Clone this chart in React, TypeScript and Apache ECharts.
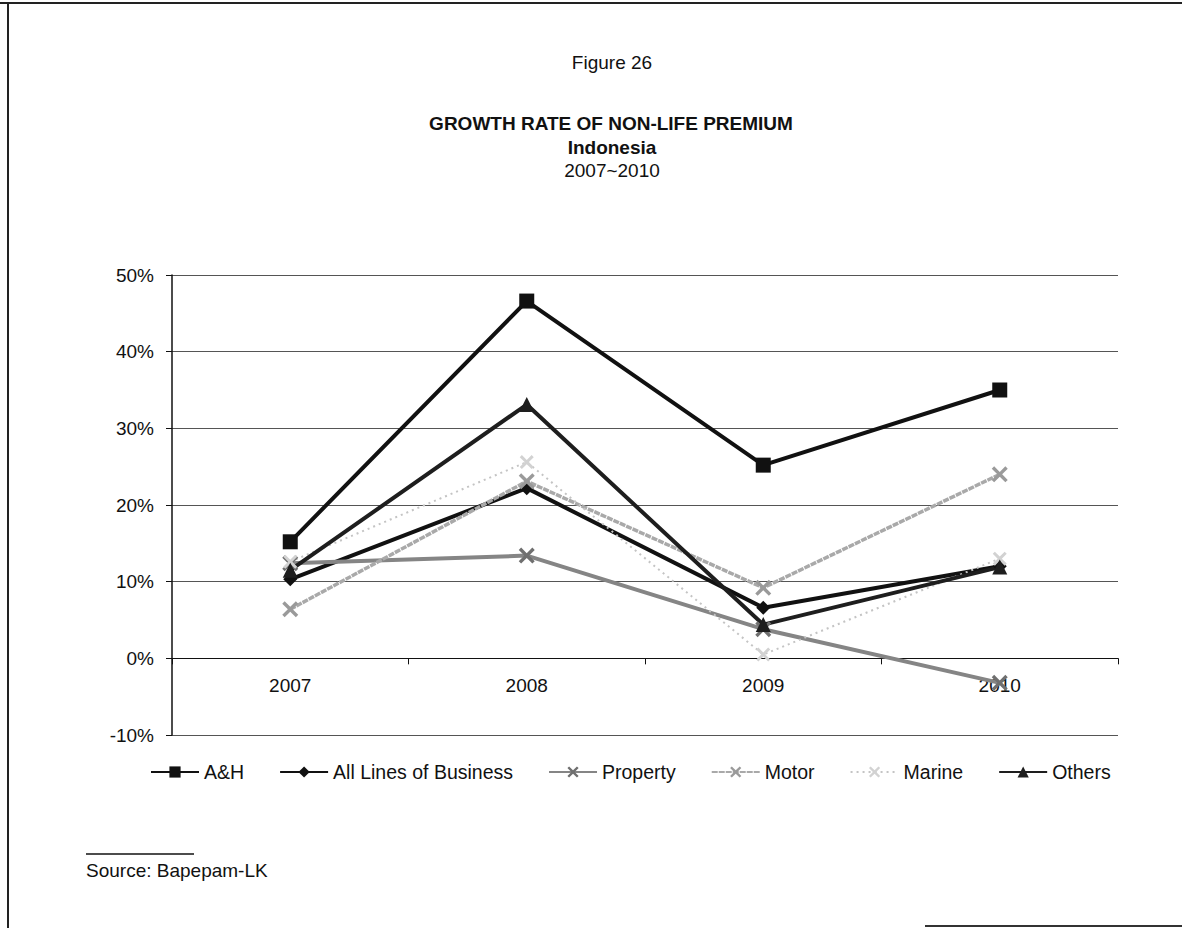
import React, { useEffect, useRef } from "react";
import * as echarts from "echarts";

const years = ["2007", "2008", "2009", "2010"];
const ahValues = [15.2, 46.6, 25.2, 35.0];
const allLinesValues = [10.3, 22.2, 6.6, 12.0];
const propertyValues = [12.4, 13.4, 3.8, -3.2];
const motorValues = [6.4, 23.1, 9.2, 24.0];
const marineValues = [12.6, 25.6, 0.5, 13.0];
const othersValues = [11.5, 33.1, 4.4, 11.9];
const seriesNames = ["A&H", "All Lines of Business", "Property", "Motor", "Marine", "Others"];
const yMin = -10;
const yMax = 50;

const FONT = "'Liberation Sans', Arial, sans-serif";
const X_SYMBOL =
  "path://M0,1.5L1.5,0L5,3.5L8.5,0L10,1.5L6.5,5L10,8.5L8.5,10L5,6.5L1.5,10L0,8.5L3.5,5Z";

const GRID_TOP = 275;
const GRID_BOTTOM = 193;
const CHART_H = 928;

export default function App() {
  const ref = useRef<HTMLDivElement>(null);
  useEffect(() => {
    document.body.style.margin = "0";
    const chart = echarts.init(ref.current!, null, { renderer: "svg" });
    const plotH = CHART_H - GRID_TOP - GRID_BOTTOM;
    const zeroOffset = (plotH * (0 - yMin)) / (yMax - yMin);
    const txt = (text: string, x: number, y: number, size: number, weight = "normal", align = "center") => ({
      type: "text",
      x,
      y,
      style: {
        text,
        fill: "#111",
        font: `${weight} ${size}px ${FONT}`,
        fontSize: size,
        fontWeight: weight,
        fontFamily: FONT,
        align,
        verticalAlign: "middle",
        textAlign: align,
        textVerticalAlign: "middle",
      },
    });
    chart.setOption({
      animation: false,
      backgroundColor: "#fff",
      graphic: [
        { type: "line", shape: { x1: 0, y1: 3, x2: 1182, y2: 3 }, style: { stroke: "#222", lineWidth: 2 } },
        { type: "line", shape: { x1: 8, y1: 3, x2: 8, y2: 928 }, style: { stroke: "#222", lineWidth: 2 } },
        { type: "line", shape: { x1: 925, y1: 926, x2: 1182, y2: 926 }, style: { stroke: "#333", lineWidth: 2 } },
        txt("Figure 26", 612, 62, 19),
        txt("GROWTH RATE OF NON-LIFE PREMIUM", 611, 123, 19, "bold"),
        txt("Indonesia", 612, 147, 19, "bold"),
        txt("2007~2010", 612, 170, 19),
        { type: "line", shape: { x1: 86, y1: 854, x2: 194, y2: 854 }, style: { stroke: "#111", lineWidth: 1.5 } },
        txt("Source: Bapepam-LK", 86, 870, 19, "normal", "left"),
      ],
      grid: { left: 172, right: 64, top: GRID_TOP, bottom: GRID_BOTTOM, containLabel: false },
      legend: {
        left: 145,
        top: 757,
        itemWidth: 48,
        itemHeight: 14,
        itemGap: 35,
        textStyle: { fontSize: 19.5, fontFamily: FONT, color: "#111" },
        data: seriesNames,
      },
      xAxis: {
        type: "category",
        data: years,
        boundaryGap: true,
        offset: -zeroOffset,
        axisLine: { onZero: false, lineStyle: { color: "#111", width: 1 } },
        axisTick: { show: true, length: 6, lineStyle: { color: "#111" } },
        axisLabel: { fontSize: 19, fontFamily: FONT, color: "#111", margin: 18 },
        splitLine: { show: false },
      },
      yAxis: {
        type: "value",
        min: yMin,
        max: yMax,
        interval: 10,
        axisLine: { show: true, lineStyle: { color: "#111", width: 1.5 } },
        axisTick: { show: true, length: 6, lineStyle: { color: "#111" } },
        axisLabel: { formatter: "{value}%", fontSize: 19, fontFamily: FONT, color: "#111", margin: 18 },
        splitLine: { show: true, lineStyle: { color: "#555", width: 1 } },
      },
      series: [
        {
          name: "A&H",
          type: "line",
          data: ahValues,
          symbol: "rect",
          symbolSize: 15,
          lineStyle: { color: "#111", width: 4 },
          itemStyle: { color: "#111" },
        },
        {
          name: "All Lines of Business",
          type: "line",
          data: allLinesValues,
          symbol: "diamond",
          symbolSize: 14,
          lineStyle: { color: "#111", width: 4 },
          itemStyle: { color: "#111" },
        },
        {
          name: "Property",
          type: "line",
          data: propertyValues,
          symbol: X_SYMBOL,
          symbolSize: 16,
          lineStyle: { color: "#858585", width: 4 },
          itemStyle: { color: "#6f6f6f" },
        },
        {
          name: "Motor",
          type: "line",
          data: motorValues,
          symbol: X_SYMBOL,
          symbolSize: 16,
          lineStyle: { color: "#a9a9a9", width: 3.5, type: [6, 1] },
          itemStyle: { color: "#9a9a9a" },
        },
        {
          name: "Marine",
          type: "line",
          data: marineValues,
          symbol: X_SYMBOL,
          symbolSize: 14,
          lineStyle: { color: "#c4c4c4", width: 2, type: [2, 4] },
          itemStyle: { color: "#d2d2d2" },
        },
        {
          name: "Others",
          type: "line",
          data: othersValues,
          symbol: "triangle",
          symbolSize: 15,
          lineStyle: { color: "#1e1e1e", width: 4 },
          itemStyle: { color: "#1e1e1e" },
        },
      ],
    });
    return () => chart.dispose();
  }, []);
  return <div ref={ref} style={{ width: 1182, height: 928 }} />;
}
